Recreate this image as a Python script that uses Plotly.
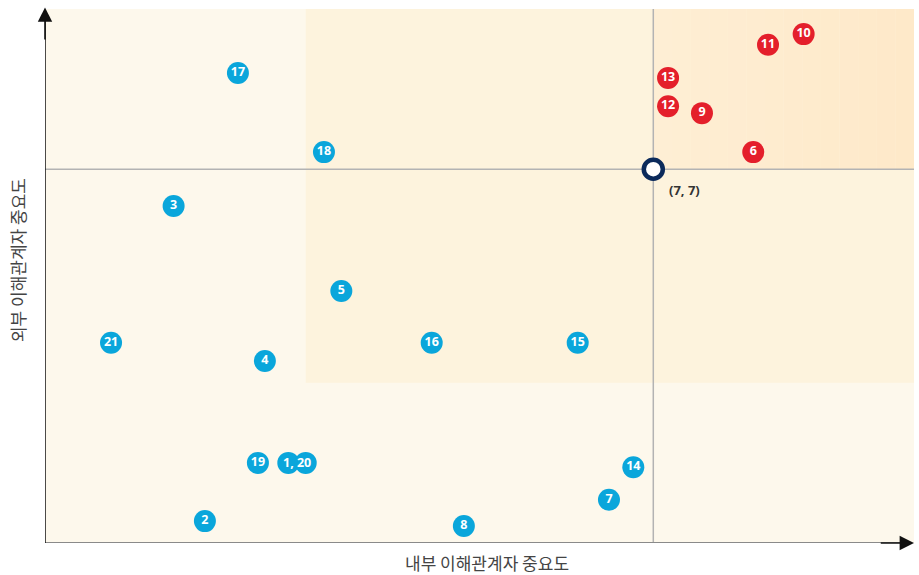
import plotly.graph_objects as go

# Data: (label, internal importance x, external importance y)
blue_labels = ["17", "18", "3", "5", "21", "4", "16", "15", "19", "14", "7", "2", "8"]
blue_x = [2.22, 3.21, 1.48, 3.41, 0.76, 2.53, 4.45, 6.13, 2.45, 6.77, 6.49, 1.84, 4.82]
blue_y = [8.80, 7.32, 6.31, 4.72, 3.75, 3.41, 3.75, 3.75, 1.50, 1.42, 0.81, 0.41, 0.32]

pair_labels = ["1", "20"]
pair_x = [2.80, 3.00]
pair_y = [1.50, 1.50]
pair_text = "1, 20"

red_labels = ["13", "12", "9", "11", "10", "6"]
red_x = [7.17, 7.17, 7.56, 8.32, 8.73, 8.15]
red_y = [8.71, 8.18, 8.05, 9.33, 9.53, 7.32]

center_x = [7]
center_y = [7]
center_label = "(7, 7)"

x_title = "내부 이해관계자 중요도"
y_title = "외부 이해관계자 중요도"

BLUE = "#0AA6DB"
RED = "#E41F2B"
NAVY = "#0B2A5B"
FONT = "Noto Sans"
KFONT = "Noto Sans CJK KR"

fig = go.Figure()

shapes = []
# middle zone
shapes.append(dict(type="rect", xref="x", yref="y", x0=3, x1=10, y0=3, y1=10,
                   fillcolor="#FDF3DD", line=dict(width=0), layer="below"))
# top-right zone with horizontal gradient
n = 14
c0 = (254, 238, 212)
c1 = (254, 233, 201)
for i in range(n):
    t = i / (n - 1)
    col = "rgb(%d,%d,%d)" % tuple(round(a + (b - a) * t) for a, b in zip(c0, c1))
    shapes.append(dict(type="rect", xref="x", yref="y",
                       x0=7 + 3 * i / n, x1=7 + 3 * (i + 1) / n, y0=7, y1=10,
                       fillcolor=col, line=dict(width=0), layer="below"))
# crosshair
shapes.append(dict(type="line", xref="x", yref="y", x0=7, x1=7, y0=0, y1=10,
                   line=dict(color="#B3B3B3", width=1.5), layer="below"))
shapes.append(dict(type="line", xref="x", yref="y", x0=0, x1=10, y0=7, y1=7,
                   line=dict(color="#B3B3B3", width=1.5), layer="below"))
# axes lines
shapes.append(dict(type="line", xref="x", yref="y", x0=0, x1=9.85, y0=0, y1=0,
                   line=dict(color="#8A8A8A", width=2)))
shapes.append(dict(type="line", xref="x", yref="y", x0=0, x1=0, y0=0, y1=9.8,
                   line=dict(color="#111111", width=1.5)))

fig.add_trace(go.Scatter(
    x=blue_x, y=blue_y, mode="markers+text", text=blue_labels,
    textposition="middle center",
    marker=dict(size=22, color=BLUE, line=dict(width=0)),
    textfont=dict(family=FONT, size=12.5, color="white", weight="bold"),
    cliponaxis=False, hoverinfo="skip", showlegend=False))

fig.add_trace(go.Scatter(
    x=pair_x, y=pair_y, mode="markers",
    marker=dict(size=22, color=BLUE, line=dict(width=0)),
    cliponaxis=False, hoverinfo="skip", showlegend=False))

fig.add_trace(go.Scatter(
    x=red_x, y=red_y, mode="markers+text", text=red_labels,
    textposition="middle center",
    marker=dict(size=22, color=RED, line=dict(width=0)),
    textfont=dict(family=FONT, size=12.5, color="white", weight="bold"),
    cliponaxis=False, hoverinfo="skip", showlegend=False))

fig.add_trace(go.Scatter(
    x=center_x, y=center_y, mode="markers",
    marker=dict(size=19, color="white", line=dict(width=4.5, color=NAVY)),
    cliponaxis=False, hoverinfo="skip", showlegend=False))

annotations = [
    dict(x=sum(pair_x) / 2, y=pair_y[0], xref="x", yref="y", text=pair_text,
         showarrow=False, font=dict(family=FONT, size=12.5, color="white", weight="bold")),
    dict(x=center_x[0], y=center_y[0], xref="x", yref="y", text="<b>" + center_label + "</b>",
         showarrow=False, xshift=31, yshift=-21,
         font=dict(family=FONT, size=13, color="#333333")),
    # x arrow head
    dict(x=10, y=0, ax=9.6, ay=0, xref="x", yref="y", axref="x", ayref="y",
         text="", showarrow=True, arrowhead=2, arrowsize=1.8, arrowwidth=1.6,
         arrowcolor="#111111"),
    # y arrow head
    dict(x=0, y=10.03, ax=0, ay=9.4, xref="x", yref="y", axref="x", ayref="y",
         text="", showarrow=True, arrowhead=2, arrowsize=1.8, arrowwidth=1.6,
         arrowcolor="#111111"),
    dict(x=0.509, y=-0.036, xref="paper", yref="paper", text=x_title, showarrow=False,
         yanchor="middle", xanchor="center",
         font=dict(family=KFONT, size=17, color="#444444")),
    dict(x=-0.031, y=0.53, xref="paper", yref="paper", text=y_title, showarrow=False,
         textangle=-90, yanchor="middle", xanchor="center",
         font=dict(family=KFONT, size=17, color="#444444")),
]

fig.update_layout(
    width=919, height=575,
    margin=dict(l=45, r=5, t=9, b=32),
    paper_bgcolor="white", plot_bgcolor="#FDF8EC",
    shapes=shapes, annotations=annotations,
    xaxis=dict(range=[0, 10], visible=False, fixedrange=True),
    yaxis=dict(range=[0, 10], visible=False, fixedrange=True),
    showlegend=False,
)

fig.write_html("out.html", config={"displayModeBar": False},
               post_script="document.body.style.margin='0';document.body.style.overflow='hidden';")
